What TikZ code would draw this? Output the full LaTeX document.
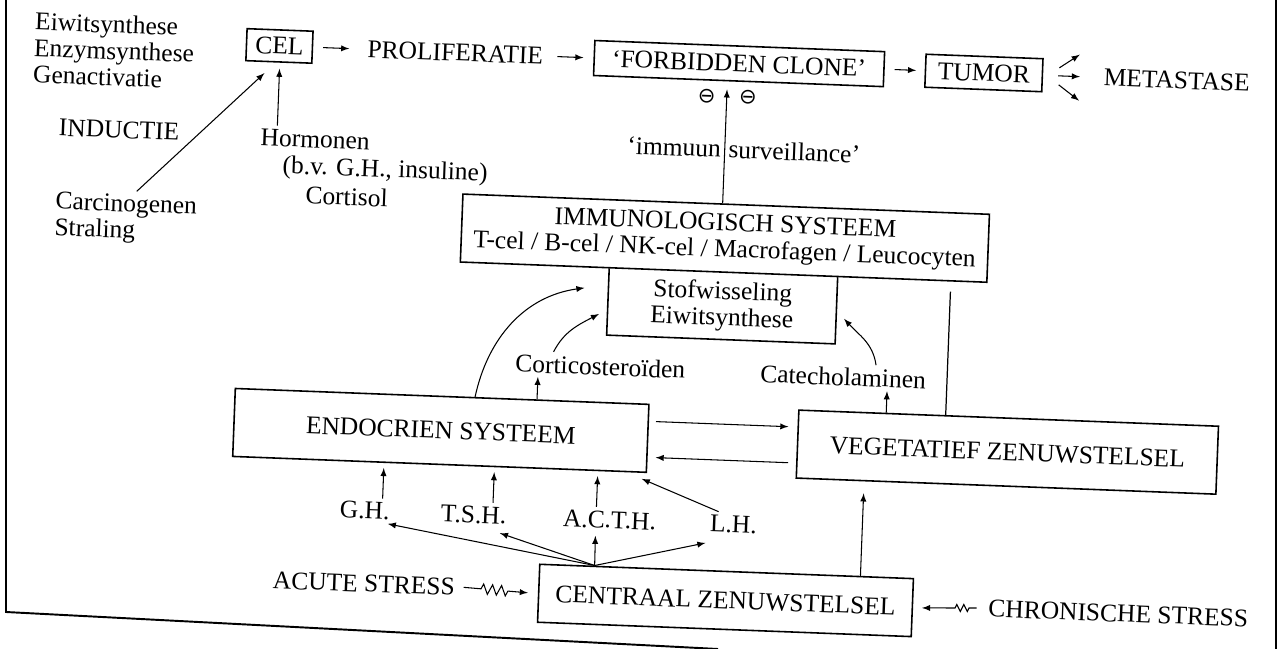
\documentclass[tikz,border=0pt]{standalone}
\usepackage{fontspec}
\setmainfont{Liberation Serif}
\newfontfamily\symfont{DejaVu Sans}
\usetikzlibrary{decorations.pathmorphing}

\begin{document}
\begin{tikzpicture}[x=0.02cm,y=0.02cm]
%%%%%%%%%%%%%%%%%%%%%%%%%%%%%%%%%%%%%%%%%%%%%%%%%%%%%%%%%%%%%%
%FRAME
\useasboundingbox (0,0) rectangle (1282,-649);
\draw[line width=1.1pt] (6,0) -- (6,-612) -- (718,-649);
\draw[line width=1.1pt] (1276,0) -- (1276,-649);

\begin{scope}[rotate around={-2.2:(641,-325)},transform shape]
%%%%%%%%%%%%%%%%%%%%%%%%%%%%%%%%%%%%%%%%%%%%%%%%%%%%%%%%%%%%%%
%styles
\tikzstyle{every node}=[font=\fontsize{14.5}{15}\selectfont,inner sep=2pt]
\tikzstyle{box}=[draw,line width=0.9pt,inner sep=0pt]
\tikzstyle{arr}=[->,>=latex,line width=0.6pt]
\tikzstyle{minus}=[font=\symfont\fontsize{12}{12}\selectfont,inner sep=0pt]
\tikzstyle{acutearr}=[->,>=latex,line width=0.6pt,decorate,decoration={zigzag,amplitude=1mm,segment length=1.8mm,pre length=3.5mm,post length=4mm}]
\tikzstyle{chronarr}=[->,>=latex,line width=0.6pt,decorate,decoration={zigzag,amplitude=0.7mm,segment length=1.4mm,pre length=1.5mm,post length=6mm}]

%%%%%%%%%%%%%%%%%%%%%%%%%%%%%%%%%%%%%%%%%%%%%%%%%%%%%%%%%%%%%%
%top row
\node[align=left] (synth) at (104,-71) {Eiwitsynthese\\Enzymsynthese\\Genactivatie};
\node[box,minimum width=1.32cm,minimum height=0.64cm] (cel) at (269,-60) {CEL};
\node (prolif) at (445,-60) {PROLIFERATIE};
\node[box,minimum width=5.8cm,minimum height=0.7cm] (clone) at (729,-60) {‘FORBIDDEN CLONE’};
\node[box,minimum width=2.34cm,minimum height=0.66cm] (tumor) at (974,-60) {TUMOR};
\node (meta) at (1167,-60) {METASTASE};

%inductie
\node (induct) at (112,-150) {INDUCTIE};
\node[align=left] (carc) at (122,-239) {Carcinogenen\\Straling};
\node[anchor=west] (horm) at (250,-152) {Hormonen};
\node[anchor=west] (bv) at (273,-181) {(b.v. G.H., insuline)};
\node[anchor=west] (cort) at (297,-208) {Cortisol};

%immuun surveillance
\coordinate (survx) at (718,-146);
\node[anchor=east] (immuun) at (survx) {‘immuun};
\node[anchor=west] (surv) at (survx) {surveillance’};
\node[minus] (minus1) at (698,-94) {⊖};
\node[minus] (minus2) at (739,-93) {⊖};

%systems
\node[box,align=center,minimum width=10.54cm,minimum height=1.36cm] (immuno) at (721.5,-235) {IMMUNOLOGISCH SYSTEEM\\T-cel / B-cel / NK-cel / Macrofagen / Leucocyten};
\node[align=center,anchor=north,minimum width=4.56cm,minimum height=1.32cm] (stof) at (immuno.south) {Stofwisseling\\Eiwitsynthese};
\node[box,minimum width=8.28cm,minimum height=1.36cm] (endo) at (445,-438) {ENDOCRIEN SYSTEEM};
\node[box,minimum width=8.4cm,minimum height=1.36cm] (veg) at (1012,-438) {VEGETATIEF ZENUWSTELSEL};
\node (cortico) at (602,-368) {Corticosteroïden};
\node (catechol) at (845,-369) {Catecholaminen};

%hormones
\node (gh) at (372,-521) {G.H.};
\node (tsh) at (481,-521) {T.S.H.};
\node (acth) at (617,-521) {A.C.T.H.};
\node (lh) at (741,-521) {L.H.};

%stress
\node[box,minimum width=7.48cm,minimum height=1.16cm] (cns) at (736,-597) {CENTRAAL ZENUWSTELSEL};
\node (acute) at (374,-594) {ACUTE STRESS};
\node (chron) at (1129,-595) {CHRONISCHE STRESS};
\coordinate (fan) at ([xshift=-2.64cm]cns.north);

%%%%%%%%%%%%%%%%%%%%%%%%%%%%%%%%%%%%%%%%%%%%%%%%%%%%%%%%%%%%%%
%ARROWS
%top row
\draw[arr,shorten <=0.2cm,shorten >=0.29cm] (cel) -- (prolif);
\draw[arr,shorten <=0.21cm,shorten >=0.2cm] (prolif) -- (clone);
\draw[arr,shorten <=0.2cm,shorten >=0.17cm] (clone) -- (tumor);
\draw[arr] ([shift={(0.32cm,0.16cm)}]tumor.east) -- ([shift={(-0.42cm,0.44cm)}]meta.west);
\draw[arr] ([xshift=0.3cm]tumor.east) -- ([xshift=-0.4cm]meta.west);
\draw[arr] ([shift={(0.32cm,-0.18cm)}]tumor.east) -- ([shift={(-0.4cm,-0.48cm)}]meta.west);

%inductie
\draw[arr] ([xshift=0.2cm]carc.north) -- ([shift={(-0.28cm,-0.22cm)}]cel.south);
\draw[arr,shorten >=0.12cm] ([xshift=0.4cm]horm.north west) -- ([xshift=0.4cm]horm.north west |- cel.south);

%immuun surveillance
\draw[arr,shorten >=0.16cm] (survx |- immuno.north) -- (survx |- clone.south);
\draw[line width=0.9pt] (stof.north west) -- (stof.south west) -- (stof.south east) -- (stof.north east);
\draw[line width=0.7pt,shorten >=0.2cm] ([xshift=-1.26cm]veg.north) -- ([xshift=-1.26cm]veg.north |- immuno.south);

%curves
\draw[arr] ([xshift=0.66cm]endo.north) to[out=80,in=190] ([shift={(-0.48cm,0.26cm)}]stof.west);
\draw[arr] ([xshift=0.83cm]cortico.north west) to[out=65,in=210] ([shift={(-0.17cm,-0.25cm)}]stof.west);
\draw[arr] ([xshift=0.65cm]catechol.north) to[out=100,in=-45] ([shift={(0.16cm,-0.16cm)}]stof.east);
\draw[arr] ([xshift=-1.24cm]cortico.south |- endo.north) -- ([xshift=-1.24cm]cortico.south);
\draw[arr] ([xshift=0.89cm]catechol.south |- veg.north) -- ([xshift=0.89cm]catechol.south);

%endo <-> veg
\draw[arr,shorten <=0.14cm,shorten >=0.18cm] ([yshift=0.34cm]endo.east) -- ([yshift=0.34cm]veg.west);
\draw[arr,shorten <=0.16cm,shorten >=0.16cm] ([yshift=-0.38cm]veg.west) -- ([yshift=-0.38cm]endo.east);

%hormones
\draw[arr,shorten >=0.1cm] ([xshift=0.35cm]gh.north) -- ([xshift=0.35cm]gh.north |- endo.south);
\draw[arr,shorten >=0.1cm] ([xshift=0.38cm]tsh.north) -- ([xshift=0.38cm]tsh.north |- endo.south);
\draw[arr,shorten >=0.1cm] ([xshift=-0.27cm]acth.north) -- ([xshift=-0.27cm]acth.north |- endo.south);
\draw[arr] ([xshift=0.24cm]lh.north west) -- ([shift={(-0.1cm,-0.12cm)}]endo.south east);

%cns
\draw[arr] (fan) -- ([xshift=-0.1cm]gh.south east);
\draw[arr] (fan) -- ([shift={(-0.19cm,-0.1cm)}]tsh.south east);
\draw[arr,shorten >=0.08cm] (fan) -- ([xshift=-0.27cm]acth.south);
\draw[arr] (fan) -- ([yshift=-0.14cm]lh.south west);
\draw[arr,shorten >=0.24cm] ([xshift=2.68cm]cns.north) -- ([xshift=2.68cm]cns.north |- veg.south);

%stress
\draw[acutearr] ([xshift=0.1cm]acute.east) -- ([xshift=-0.2cm]cns.west);
\draw[chronarr] ([xshift=-0.16cm]chron.west) -- ([xshift=0.18cm]cns.east);
\end{scope}
\end{tikzpicture}
\end{document}
